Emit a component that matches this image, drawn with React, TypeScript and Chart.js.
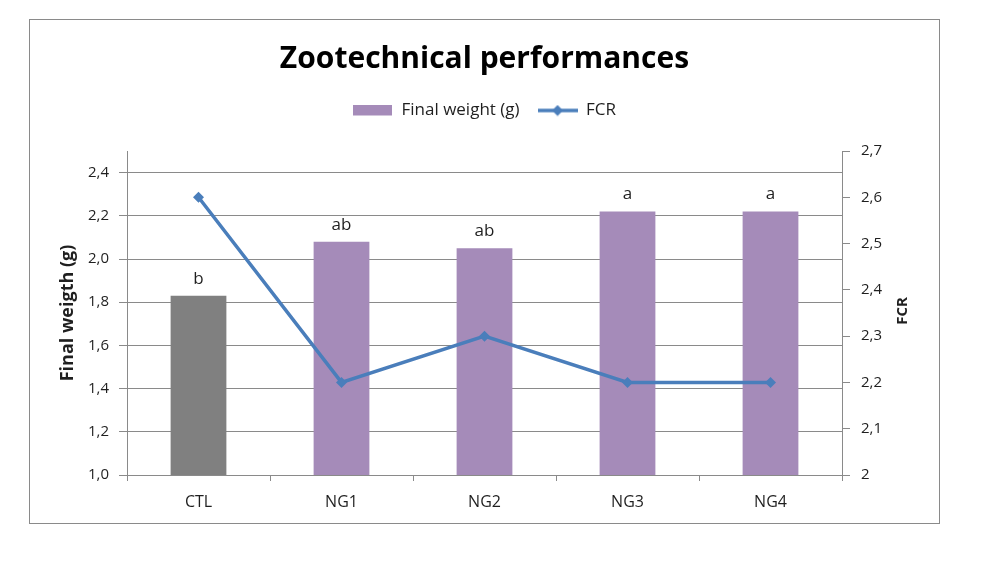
import { useEffect, useRef } from "react"
import { Chart, registerables, type ChartConfiguration, type Plugin } from "chart.js"

Chart.register(...registerables)

const groups = ["CTL", "NG1", "NG2", "NG3", "NG4"]
const finalWeight = [1.83, 2.08, 2.05, 2.22, 2.22]
const fcr = [2.6, 2.2, 2.3, 2.2, 2.2]
const letters = ["b", "ab", "ab", "a", "a"]

const PURPLE = "#A58BB9"
const GREY_BAR = "#808080"
const BLUE = "#4A7EBB"
const GRID = "#8a8a8a"
const TEXT = "#1f1f1f"
const FONT = "'Open Sans', sans-serif"

// formats 2.4 -> "2,4"
const comma = (v: number) => v.toFixed(1).replace(".", ",")

function legendIcon(kind: "bar" | "line") {
  const c = document.createElement("canvas")
  c.width = 40
  c.height = 12
  const g = c.getContext("2d")!
  if (kind === "bar") {
    g.fillStyle = PURPLE
    g.fillRect(0, 0, 39, 11)
  } else {
    g.strokeStyle = BLUE
    g.lineWidth = 3.5
    g.beginPath()
    g.moveTo(0, 6)
    g.lineTo(40, 6)
    g.stroke()
    g.fillStyle = BLUE
    g.beginPath()
    g.moveTo(20, 0.5)
    g.lineTo(25.5, 6)
    g.lineTo(20, 11.5)
    g.lineTo(14.5, 6)
    g.closePath()
    g.fill()
  }
  return c
}

// letters above the bars
const barLetters: Plugin = {
  id: "barLetters",
  afterDatasetsDraw(chart) {
    const ctx = chart.ctx
    const meta = chart.getDatasetMeta(0)
    ctx.save()
    ctx.font = `17px ${FONT}`
    ctx.fillStyle = TEXT
    ctx.textAlign = "center"
    ctx.textBaseline = "alphabetic"
    meta.data.forEach((bar, i) => {
      ctx.fillText(letters[i], bar.x, bar.y - 12)
    })
    ctx.restore()
  },
}

// right axis title reads bottom-to-top like the left one
const rightTitle: Plugin = {
  id: "rightTitle",
  afterDraw(chart) {
    const ctx = chart.ctx
    const s = chart.scales.y1
    const area = chart.chartArea
    ctx.save()
    ctx.translate(s.right - 36, (area.top + area.bottom) / 2 - 2)
    ctx.rotate(-Math.PI / 2)
    ctx.font = `bold 15px ${FONT}`
    ctx.fillStyle = TEXT
    ctx.textAlign = "center"
    ctx.textBaseline = "middle"
    ctx.fillText("FCR", 0, 0)
    ctx.restore()
  },
}

// extra room under the legend
const legendGap: Plugin = {
  id: "legendGap",
  beforeInit(chart: any) {
    const fit = chart.legend.fit
    chart.legend.fit = function () {
      fit.bind(chart.legend)()
      this.height += 22
    }
  },
}

export default function App() {
  const chartRef = useRef<HTMLCanvasElement>(null)
  const chartInstance = useRef<Chart | null>(null)

  useEffect(() => {
    if (!chartRef.current) return
    const ctx = chartRef.current.getContext("2d")
    if (!ctx) return

    if (chartInstance.current) {
      chartInstance.current.destroy()
    }

    Chart.defaults.font.family = FONT
    Chart.defaults.color = TEXT

    const icons = [legendIcon("bar"), legendIcon("line")]

    const config: ChartConfiguration = {
      type: "bar",
      data: {
        labels: groups,
        datasets: [
          {
            type: "bar",
            label: "Final weight (g)",
            data: finalWeight,
            yAxisID: "y",
            backgroundColor: groups.map((_, i) => (i === 0 ? GREY_BAR : PURPLE)),
            barPercentage: 0.39,
            categoryPercentage: 1,
            order: 1,
          },
          {
            type: "line",
            label: "FCR",
            data: fcr,
            yAxisID: "y1",
            borderColor: BLUE,
            backgroundColor: BLUE,
            borderWidth: 3.5,
            pointStyle: "rectRot",
            pointRadius: 5.5,
            pointBorderWidth: 0,
            tension: 0,
            order: 0,
          },
        ],
      },
      options: {
        responsive: true,
        maintainAspectRatio: false,
        animation: false,
        layout: { padding: 0 },
        plugins: {
          title: {
            display: true,
            text: "Zootechnical performances",
            color: "#000",
            font: { size: 30, weight: "bold", lineHeight: 1 },
            padding: { top: 24, bottom: 10 },
          },
          legend: {
            display: true,
            position: "top",
            labels: {
              usePointStyle: true,
              pointStyleWidth: 40,
              padding: 18,
              font: { size: 17 },
              color: TEXT,
              generateLabels: (chart) => {
                const items = Chart.defaults.plugins.legend.labels.generateLabels(chart)
                items.sort((a, b) => (a.datasetIndex ?? 0) - (b.datasetIndex ?? 0))
                return items.map((it) => ({ ...it, pointStyle: icons[it.datasetIndex ?? 0] as any, lineWidth: 0 }))
              },
            },
          },
          tooltip: { enabled: false },
        },
        scales: {
          x: {
            offset: true,
            grid: {
              display: true,
              drawOnChartArea: false,
              drawTicks: true,
              tickLength: 6,
              offset: true,
              color: GRID,
            },
            border: { display: true, color: GRID, width: 1 },
            ticks: { padding: 12, font: { size: 16 }, color: TEXT },
            afterFit: (s) => {
              s.height = 48
            },
          },
          y: {
            position: "left",
            min: 1,
            max: 2.5,
            grid: { color: GRID, tickLength: 8, drawTicks: true },
            border: { display: true, color: GRID },
            ticks: {
              stepSize: 0.2,
              includeBounds: false,
              padding: 10,
              font: { size: 15 },
              color: TEXT,
              callback: (v) => comma(Number(v)),
            },
            title: {
              display: true,
              text: "Final weigth (g)",
              font: { size: 18, weight: "bold" },
              color: TEXT,
              padding: { top: 27, bottom: 0 },
            },
            afterFit: (s) => {
              s.width = 97
            },
          },
          y1: {
            position: "right",
            min: 2,
            max: 2.7,
            grid: { display: true, drawOnChartArea: false, drawTicks: true, tickLength: 8, color: GRID },
            border: { display: true, color: GRID },
            ticks: {
              stepSize: 0.1,
              padding: 11,
              font: { size: 15 },
              color: TEXT,
              callback: (v) => (Number(v) === 2 ? "2" : comma(Number(v))),
            },
            afterFit: (s) => {
              s.width = 97
            },
          },
        },
      },
      plugins: [barLetters, rightTitle, legendGap],
    }

    chartInstance.current = new Chart(ctx, config)

    return () => {
      if (chartInstance.current) {
        chartInstance.current.destroy()
        chartInstance.current = null
      }
    }
  }, [])

  return (
    <div
      style={{
        position: "absolute",
        left: 29,
        top: 19,
        width: 911,
        height: 505,
        border: "1px solid #8a8a8a",
        boxSizing: "border-box",
        background: "#fff",
      }}
    >
      <div style={{ position: "relative", width: 909, height: 503 }}>
        <canvas ref={chartRef} />
      </div>
    </div>
  )
}
